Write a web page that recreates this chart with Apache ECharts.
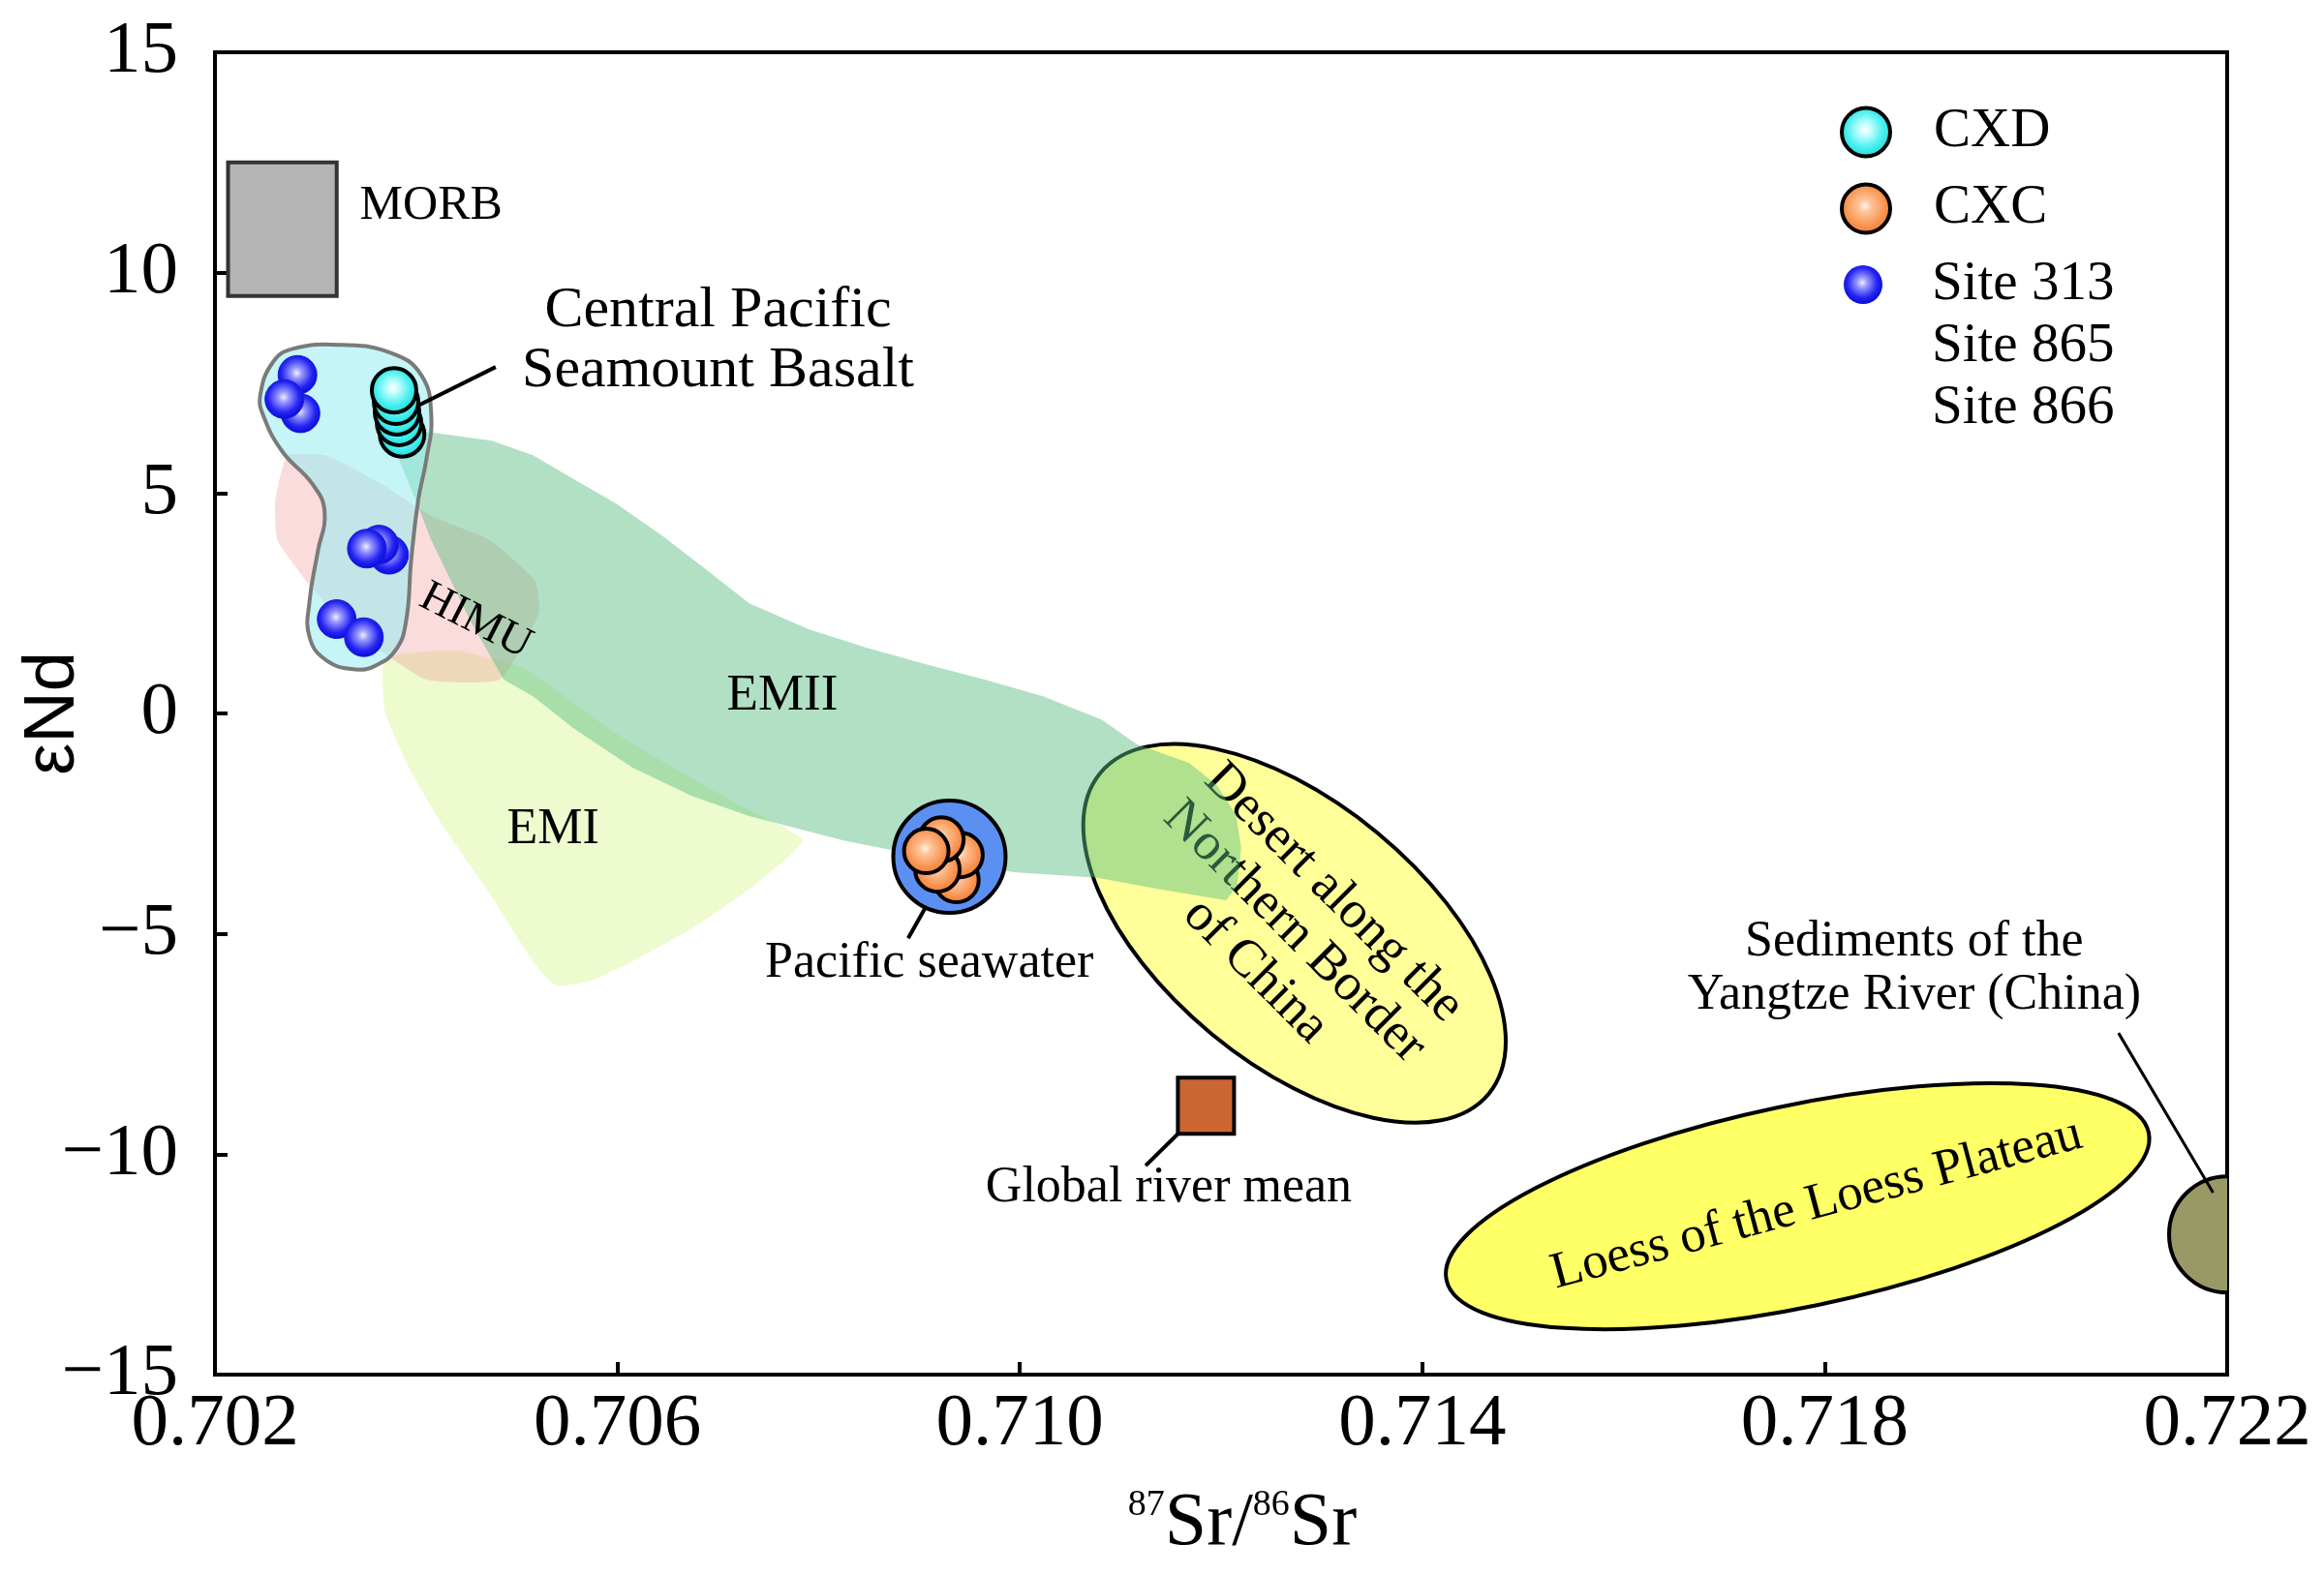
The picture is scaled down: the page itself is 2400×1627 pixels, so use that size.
<!DOCTYPE html>
<html>
<head>
<meta charset="utf-8">
<script src="https://cdn.jsdelivr.net/npm/echarts@6/dist/echarts.min.js"></script>
<style>
html,body{margin:0;padding:0;background:#ffffff;}
#chart{width:2400px;height:1627px;}
</style>
</head>
<body>
<div id="chart"></div>
<script>
// ---------------- data ----------------
const xTickMin = 0.702, xTickMax = 0.722, xTickStep = 0.004;
const yTickMin = -15, yTickMax = 15, yTickStep = 5;

// sample points [87Sr/86Sr, eNd]
const siteXY = [[0.70285,6.81],[0.70282,7.68],[0.70269,7.13],[0.70373,3.60],[0.70363,3.83],[0.70351,3.74],[0.70321,2.14],[0.70348,1.73]];
const cxdXY = [[0.70386,6.33],[0.70383,6.59],[0.70381,6.83],[0.70380,7.07],[0.70378,7.33]];
const cxcXY = [[0.70937,-3.78],[0.70941,-3.21],[0.70918,-3.54],[0.70922,-2.86],[0.70907,-3.12]];

// reference fields
const morbBox = [[0.70213,9.47],[0.70321,12.50]];
const seamountOutline = [[0.70245,7.22],[0.70257,7.95],[0.70277,8.27],[0.70326,8.36],[0.70375,8.18],[0.70405,7.68],[0.70415,6.76],[0.70410,5.75],[0.70402,4.84],[0.70395,3.47],[0.70390,2.10],[0.70380,1.45],[0.70360,1.09],[0.70340,1.00],[0.70311,1.20],[0.70294,1.73],[0.70294,2.55],[0.70302,3.65],[0.70309,4.57],[0.70297,5.20],[0.70267,5.94],[0.70248,6.76]];
const himuOutline = [[0.70272,5.85],[0.70260,4.84],[0.70262,3.93],[0.70297,2.83],[0.70341,1.82],[0.70410,0.77],[0.70483,0.77],[0.70522,2.28],[0.70518,3.01],[0.70473,3.93],[0.70415,4.48],[0.70366,5.20],[0.70311,5.85]];
const emiOutline = [[0.70369,1.25],[0.70369,0.04],[0.70393,-1.23],[0.70428,-2.61],[0.70470,-3.98],[0.70516,-5.62],[0.70539,-6.17],[0.70574,-6.06],[0.70615,-5.62],[0.70674,-4.88],[0.70731,-3.98],[0.70784,-2.88],[0.70718,-2.04],[0.70602,-0.51],[0.70506,1.03],[0.70439,1.43]];
const emiiOutline = [[0.70367,6.52],[0.70417,6.37],[0.70475,6.19],[0.70516,5.86],[0.70550,5.40],[0.70598,4.77],[0.70644,4.04],[0.70685,3.32],[0.70731,2.50],[0.70790,1.91],[0.70848,1.49],[0.70906,1.12],[0.70965,0.77],[0.71023,0.39],[0.71082,-0.15],[0.71116,-0.70],[0.71168,-1.12],[0.71196,-1.63],[0.71215,-2.31],[0.71220,-3.05],[0.71216,-3.91],[0.71205,-4.24],[0.71137,-3.98],[0.71077,-3.73],[0.70994,-3.60],[0.70906,-3.25],[0.70825,-2.88],[0.70731,-2.33],[0.70674,-1.87],[0.70615,-1.23],[0.70556,-0.33],[0.70516,0.39],[0.70487,0.77],[0.70454,2.09],[0.70415,3.93],[0.70399,4.87],[0.70381,5.86]];
// ellipse: [centre, end of major axis, end of minor axis]
const desertEllipse = [[0.71273,-4.99],[0.71466,-8.63],[0.71356,-2.72]];
const loessEllipse = [[0.71773,-11.18],[0.72122,-9.51],[0.71793,-13.42]];
const yangtzeCentre = [0.72200,-11.82];
const globalRiverMean = [0.71185,-8.90];
const pacificSeawater = [0.70930,-3.25];
// leader lines [x1,y1,x2,y2]
const leaderLines = [[0.70398,6.94,0.70479,7.86],[0.70910,-4.25,0.70889,-5.10],[0.71178,-9.07,0.71125,-10.26],[0.72092,-7.25,0.72186,-10.87]];

// text labels
const labelTexts = ['MORB','Central Pacific\nSeamount Basalt','HIMU','EMII','EMI','Pacific seawater','Global river mean','Sediments of the\nYangtze River (China)'];
const labelAnchors = [[0.70344,11.50],[0.70700,8.45],[0.70459,2.09],[0.70764,0.39],[0.70536,-2.64],[0.70910,-5.67],[0.71148,-10.76],[0.71889,-5.80]];
const desertText = 'Desert along the\nNorthern Border\nof China';
const desertTextAnchor = [0.71273,-4.96];
const loessText = 'Loess of the Loess Plateau';
const loessTextAnchor = [0.71792,-11.14];

// ---------------- styles ----------------
const SERIF = 'Liberation Serif';
const labelStyles = [
  {size:50, align:'left', rot:0, lh:60},
  {size:60, align:'center', rot:0, lh:62},
  {size:46, align:'center', rot:-27, lh:50},
  {size:53, align:'center', rot:0, lh:60},
  {size:52, align:'center', rot:0, lh:60},
  {size:52, align:'center', rot:0, lh:60},
  {size:52, align:'center', rot:0, lh:60},
  {size:52, align:'center', rot:0, lh:55}
];

function radial(stops){
  return {type:'radial', x:0.48, y:0.45, r:0.6, colorStops: stops.map(s=>({offset:s[0], color:s[1]}))};
}
const cyanGrad = radial([[0,'#ffffff'],[0.18,'#c8ffff'],[0.6,'#45eeee'],[1,'#14d2d2']]);
const orangeGrad = radial([[0,'#fff4ec'],[0.2,'#ffc49a'],[0.65,'#f8924e'],[1,'#e6702c']]);
const blueGrad = radial([[0,'#f0f0ff'],[0.22,'#9a9aff'],[0.65,'#2424f2'],[1,'#0000d2']]);

function polygonSeries(pts, style, smooth){
  return {
    type:'custom', coordinateSystem:'cartesian2d', silent:true, clip:true,
    data: pts, encode:{x:0, y:1},
    renderItem: function(params, api){
      if (params.dataIndex !== 0) return null;
      return {type:'polygon', shape:{points: pts.map(p=>api.coord(p)), smooth: smooth || 0}, style: style};
    }
  };
}

function ellipseSeries(e, fill, text, textAnchor, textRotDeg, fontSize, lineHeight){
  return {
    type:'custom', coordinateSystem:'cartesian2d', silent:true, clip:true,
    data: e, encode:{x:0, y:1},
    renderItem: function(params, api){
      if (params.dataIndex !== 0) return null;
      const C = api.coord(e[0]), M = api.coord(e[1]), N = api.coord(e[2]);
      const rx = Math.hypot(M[0]-C[0], M[1]-C[1]);
      const ry = Math.hypot(N[0]-C[0], N[1]-C[1]);
      const ang = Math.atan2(M[1]-C[1], M[0]-C[0]);
      const T = api.coord(textAnchor);
      return {type:'group', children:[
        {type:'ellipse', x:C[0], y:C[1], rotation:-ang, shape:{cx:0, cy:0, rx:rx, ry:ry},
          style:{fill:fill, stroke:'#000', lineWidth:4}},
        {type:'text', x:T[0], y:T[1], rotation: textRotDeg*Math.PI/180,
          style:{text:text, fontFamily:SERIF, fontSize:fontSize, lineHeight:lineHeight, fill:'#000', align:'center', verticalAlign:'middle'}}
      ]};
    }
  };
}

const series = [];
// MORB box
series.push({
  type:'custom', coordinateSystem:'cartesian2d', silent:true, data: morbBox, encode:{x:0,y:1},
  renderItem: function(params, api){
    if (params.dataIndex !== 0) return null;
    const a = api.coord(morbBox[0]), b = api.coord(morbBox[1]);
    return {type:'rect', shape:{x:Math.min(a[0],b[0]), y:Math.min(a[1],b[1]), width:Math.abs(b[0]-a[0]), height:Math.abs(b[1]-a[1])},
      style:{fill:'#b4b4b4', stroke:'#333333', lineWidth:4}};
  }
});
// Desert & loess ellipses
series.push(ellipseSeries(desertEllipse, '#ffff99', desertText, desertTextAnchor, -45, 54, 57));
series.push(ellipseSeries(loessEllipse, '#ffff66', loessText, loessTextAnchor, 15, 53, 60));
// Yangtze circle
series.push({
  type:'custom', coordinateSystem:'cartesian2d', silent:true, clip:true, data:[yangtzeCentre], encode:{x:0,y:1},
  renderItem: function(params, api){
    const c = api.coord([api.value(0), api.value(1)]);
    return {type:'circle', shape:{cx:c[0], cy:c[1], r:60}, style:{fill:'#999966', stroke:'#000', lineWidth:4}};
  }
});
// global river mean
series.push({type:'scatter', silent:true, data:[globalRiverMean], symbol:'rect', symbolSize:58,
  itemStyle:{color:'#cc6633', borderColor:'#000', borderWidth:4, opacity:1}});
// Pacific seawater
series.push({type:'scatter', silent:true, data:[pacificSeawater], symbol:'circle', symbolSize:116,
  itemStyle:{color:'#5c8ff2', borderColor:'#000', borderWidth:4, opacity:1}});
// mantle fields
series.push(polygonSeries(emiOutline, {fill:'rgba(212,246,140,0.42)'}, 0.15));
series.push(polygonSeries(himuOutline, {fill:'rgba(240,140,140,0.30)'}, 0.15));
series.push(polygonSeries(emiiOutline, {fill:'rgba(90,190,130,0.47)'}, 0));
series.push(polygonSeries(seamountOutline, {fill:'rgba(150,236,240,0.55)', stroke:'#7a7a7a', lineWidth:4}, 0.45));
// leader lines
series.push({
  type:'custom', coordinateSystem:'cartesian2d', silent:true, data: leaderLines, encode:{x:[0,2], y:[1,3]},
  renderItem: function(params, api){
    const a = api.coord([api.value(0), api.value(1)]), b = api.coord([api.value(2), api.value(3)]);
    return {type:'line', shape:{x1:a[0], y1:a[1], x2:b[0], y2:b[1]}, style:{stroke:'#000', lineWidth: params.dataIndex===3 ? 3 : 4}};
  }
});
// text labels
series.push({
  type:'custom', coordinateSystem:'cartesian2d', silent:true, data: labelAnchors, encode:{x:0,y:1},
  renderItem: function(params, api){
    const i = params.dataIndex, s = labelStyles[i];
    const p = api.coord([api.value(0), api.value(1)]);
    return {type:'text', x:p[0], y:p[1], rotation: s.rot*Math.PI/180,
      style:{text: labelTexts[i], fontFamily:SERIF, fontSize:s.size, lineHeight:s.lh, fill:'#000', align:s.align, verticalAlign:'middle'}};
  }
});
// sample points
const sitesName = 'Site 313\nSite 865\nSite 866';
series.push({name:sitesName, type:'scatter', data: siteXY, symbol:'circle', symbolSize:40,
  itemStyle:{color: blueGrad, borderColor:'#1a1ad8', borderWidth:1, opacity:1}});
series.push({name:'CXD', type:'scatter', data: cxdXY, symbol:'circle', symbolSize:46,
  itemStyle:{color: cyanGrad, borderColor:'#000', borderWidth:4, opacity:1}});
series.push({name:'CXC', type:'scatter', data: cxcXY, symbol:'circle', symbolSize:46,
  itemStyle:{color: orangeGrad, borderColor:'#000', borderWidth:4, opacity:1}});

const chart = echarts.init(document.getElementById('chart'), null, {renderer:'canvas'});
chart.setOption({
  animation:false,
  backgroundColor:'#ffffff',
  grid:{left:222, right:100, top:54, bottom:207, containLabel:false, outerBoundsMode:'none',
    show:true, borderColor:'#000', borderWidth:4, backgroundColor:'transparent'},
  legend:[
    {data:['CXD','CXC'], orient:'vertical', left:1895, top:103, itemWidth:50, itemHeight:50, itemGap:22, icon:'circle', selectedMode:false,
      itemStyle:{borderColor:'#000', borderWidth:4},
      textStyle:{fontFamily:SERIF, fontSize:57, lineHeight:50, color:'#000', padding:[0,0,0,40]}},
    {data:[sitesName], orient:'vertical', left:1899, top:129, itemWidth:40, itemHeight:40, icon:'circle', selectedMode:false,
      itemStyle:{borderWidth:0},
      formatter: function(name){ return '\n\n' + name; },
      textStyle:{fontFamily:SERIF, fontSize:57, lineHeight:64, color:'#000', padding:[0,0,0,46]}}
  ],
  xAxis:{
    type:'value', min:xTickMin, max:xTickMax, interval:xTickStep,
    axisLine:{show:true, onZero:false, lineStyle:{color:'#000', width:4}},
    axisTick:{show:true, inside:true, length:13, lineStyle:{color:'#000', width:4}},
    axisLabel:{fontFamily:SERIF, fontSize:77, color:'#000', margin:13, formatter:v=>v.toFixed(3)},
    splitLine:{show:false},
    name:'{sup|87}{b|Sr/}{sup|86}{b|Sr}', nameLocation:'middle', nameGap:116,
    nameTextStyle:{padding:[0,0,0,44], rich:{
      b:{fontFamily:SERIF, fontSize:78, color:'#000'},
      sup:{fontFamily:SERIF, fontSize:38, color:'#000', verticalAlign:'top'}
    }}
  },
  yAxis:{
    type:'value', min:yTickMin, max:yTickMax, interval:yTickStep,
    axisLine:{show:true, onZero:false, lineStyle:{color:'#000', width:4}},
    axisTick:{show:true, inside:true, length:13, lineStyle:{color:'#000', width:4}},
    axisLabel:{fontFamily:SERIF, fontSize:77, color:'#000', margin:38, formatter:v=> v<0 ? '\u2212'+(-v) : String(v)},
    splitLine:{show:false},
    name:'\u03b5Nd', nameLocation:'middle', nameRotate:90, nameGap:129, nameMoveOverlap:false,
    nameTextStyle:{fontFamily:'Liberation Sans', fontSize:74, color:'#000'}
  },
  series: series
});
</script>
</body>
</html>
